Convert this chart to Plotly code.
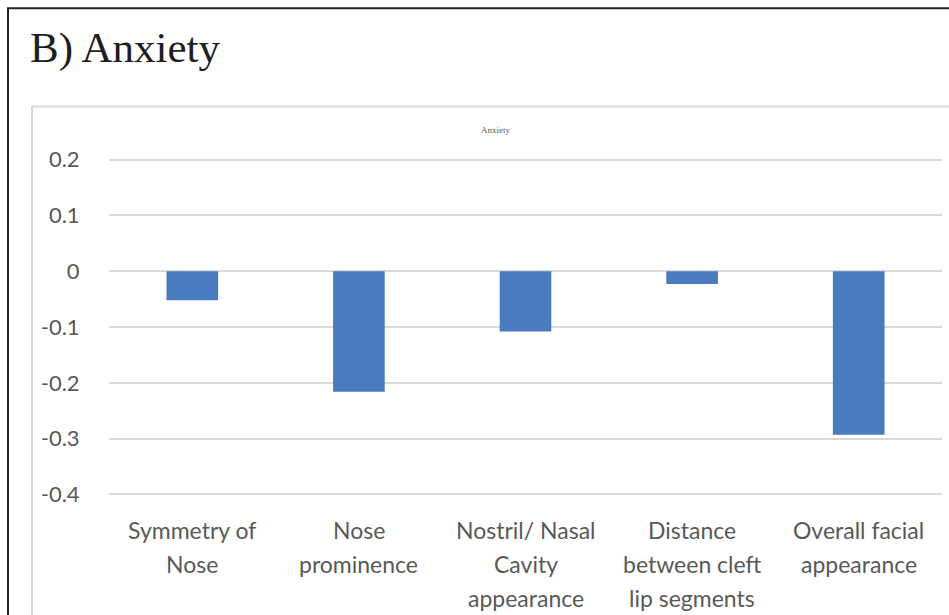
import plotly.graph_objects as go

categories = ["Symmetry of\nNose", "Nose\nprominence", "Nostril/ Nasal\nCavity\nappearance",
              "Distance\nbetween cleft\nlip segments", "Overall facial\nappearance"]
values = [-0.052, -0.216, -0.108, -0.023, -0.293]
y_ticks = [0.2, 0.1, 0, -0.1, -0.2, -0.3, -0.4]
y_ticklabels = ["0.2", "0.1", "0", "-0.1", "-0.2", "-0.3", "-0.4"]

cat_font = dict(family="Lato, Noto Sans, sans-serif", size=23, color="#595959")
tick_font = dict(family="Lato, Noto Sans, sans-serif", size=22, color="#595959")

W, H = 949, 615
ymin, ymax = -0.41, 0.21
# pixel positions: 0.2 -> 160, -0.4 -> 494
ppu = (494 - 160) / 0.6
mt = 160 - (ymax - 0.2) * ppu
mb = H - (494 + (-0.4 - ymin) * ppu)
ml, mr = 109, 7
pw, ph = W - ml - mr, H - mt - mb

fig = go.Figure()
fig.add_trace(go.Bar(x=list(range(len(categories))), y=values,
                     marker=dict(color="#4a7bbf", line=dict(width=0)), width=0.31))

annotations = []
for i, cat in enumerate(categories):
    for j, line in enumerate(cat.split("\n")):
        annotations.append(dict(x=i, xref="x", y=-0.4, yref="y", text=line, showarrow=False,
                                xanchor="center", yanchor="middle", yshift=-36 - 34 * j,
                                font=cat_font))

def px_x(x):
    return (x - ml) / pw

def px_y(y):
    return 1 - (y - mt) / ph

annotations.append(dict(x=px_x(28), xref="paper", y=px_y(49), yref="paper", text="B) Anxiety",
                        showarrow=False, xanchor="left", yanchor="middle",
                        font=dict(family="Liberation Serif, DejaVu Serif, serif", size=43, color="#1e1e1e")))
annotations.append(dict(x=px_x(495), xref="paper", y=px_y(130), yref="paper", text="Anxiety",
                        showarrow=False, xanchor="center", yanchor="middle",
                        font=dict(family="Liberation Serif, serif", size=9, color="#595959")))

shapes = [
    dict(type="rect", xref="paper", yref="paper", x0=px_x(8), x1=px_x(960), y0=px_y(9), y1=px_y(640),
         line=dict(color="#222222", width=2), fillcolor="rgba(0,0,0,0)", layer="below"),
    dict(type="rect", xref="paper", yref="paper", x0=px_x(32), x1=px_x(970), y0=px_y(107), y1=px_y(640),
         line=dict(color="#d9d9d9", width=2), fillcolor="rgba(0,0,0,0)", layer="below"),
]

fig.update_layout(
    width=W, height=H, margin=dict(l=ml, r=mr, t=mt, b=mb),
    paper_bgcolor="white", plot_bgcolor="white", showlegend=False,
    annotations=annotations, shapes=shapes,
    xaxis=dict(range=[-0.5, len(categories) - 0.5], showticklabels=False, showgrid=False,
               zeroline=False, showline=False, ticks=""),
    yaxis=dict(range=[ymin, ymax], tickvals=y_ticks, ticktext=y_ticklabels, showgrid=True,
               gridcolor="#d9d9d9", gridwidth=2, zeroline=False, showline=False,
               ticks="outside", ticklen=24, tickcolor="rgba(0,0,0,0)", tickfont=tick_font),
)
fig.write_html("out.html")
